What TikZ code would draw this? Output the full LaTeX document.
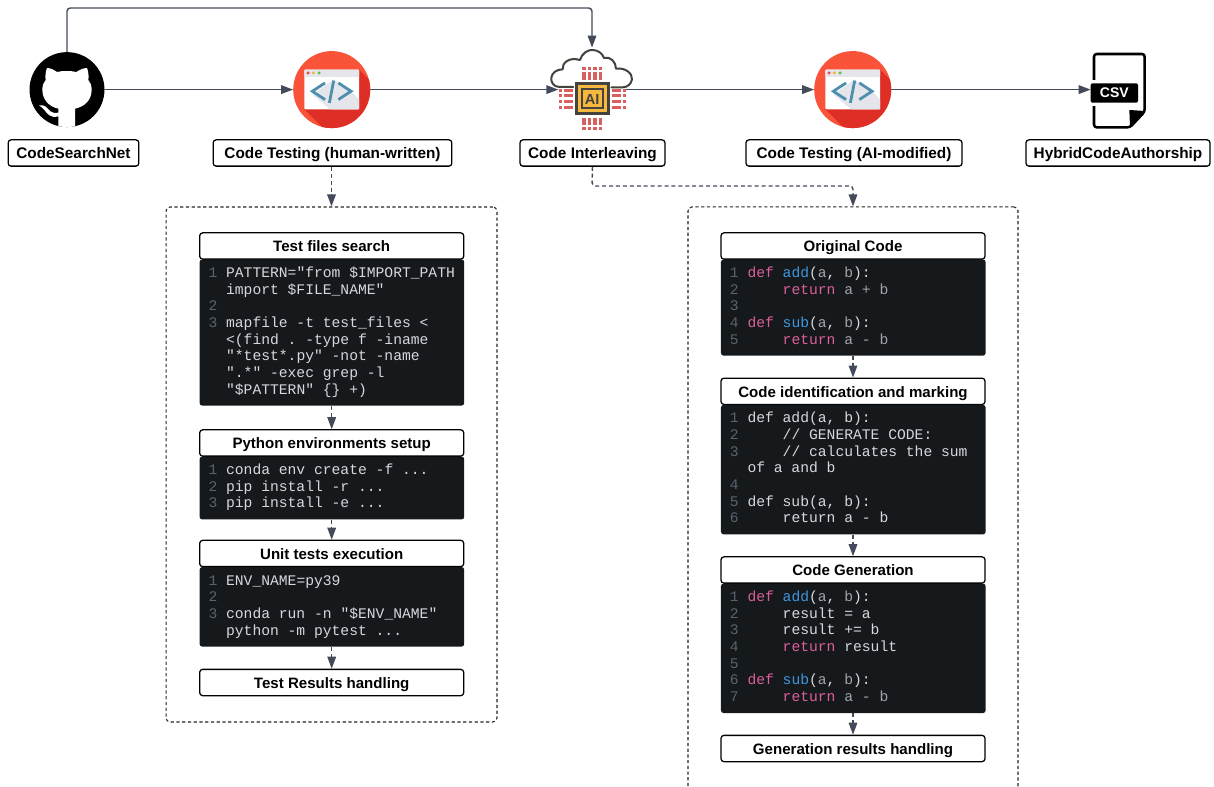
\documentclass[tikz,border=0pt]{standalone}
\usepackage{fontspec}
\usepackage{xcolor}
\setmainfont{Liberation Sans}
\newfontfamily\codefont{Liberation Mono}
\usetikzlibrary{arrows.meta,shapes.geometric}
\definecolor{linec}{HTML}{434B5A}
\definecolor{darkbg}{HTML}{15191C}
\definecolor{codec}{HTML}{D6D8DC}
\definecolor{numc}{HTML}{5C626B}
\definecolor{kwc}{HTML}{DD5E9A}
\definecolor{fnc}{HTML}{3E97DE}
\definecolor{argc}{HTML}{A2A4A8}
\definecolor{icored}{HTML}{F9533A}
\definecolor{icodark}{HTML}{DE2E25}
\definecolor{icoblue}{HTML}{4F8FAE}
\definecolor{icogray}{HTML}{E4E6EB}
\definecolor{dotr}{HTML}{E8474C}
\definecolor{doty}{HTML}{F5B52E}
\definecolor{dotg}{HTML}{57C04A}
\definecolor{chipred}{HTML}{D9605F}
\definecolor{chipdark}{HTML}{46423E}
\definecolor{chipyel}{HTML}{F5B93F}
\newcommand\lno[1]{\spaceskip=.6em\xspaceskip=.6em\relax\strut\textcolor{numc}{#1}\hspace*{.6em}}
\newcommand\lnc{\spaceskip=.6em\xspaceskip=.6em\relax\strut\hspace*{1.2em}}
\newcommand\ind{\hspace*{2.4em}}
\newcommand\kw[1]{\textcolor{kwc}{#1}}
\newcommand\fn[1]{\textcolor{fnc}{#1}}
\newcommand\ar[1]{\textcolor{argc}{#1}}
\tikzset{
  x=0.75pt,y=-0.75pt,
  lbl/.style={draw=black,line width=0.95pt,fill=white,rounded corners=2.2pt,font=\bfseries\fontsize{11.5}{13}\selectfont,inner xsep=0pt,inner ysep=0pt,minimum height=19.7pt,text height=10pt,text depth=1.2pt,text=black},
  hd/.style={lbl,minimum width=198pt,font=\bfseries\fontsize{11.3}{13}\selectfont},
  dark/.style={fill=darkbg,rounded corners=2pt,anchor=north west,text width=185.1pt,inner xsep=6.7pt,inner ysep=4.85pt,align=left,text=codec,font=\codefont\fontsize{11}{12.49}\selectfont},
  conn/.style={draw=linec,line width=1.1pt,-{Triangle[length=9pt,width=6.4pt,fill=linec]}},
  dconn/.style={conn,dash pattern=on 3pt off 2.2pt},
  frame/.style={draw=black!85,line width=0.8pt,dash pattern=on 2.4pt off 1.9pt,rounded corners=3pt,inner sep=0pt},
  iconbox/.style={inner sep=0pt,outer sep=0pt}
}
\newcommand\codeicon[1]{%
  \begin{scope}[shift={(#1)},x=.25pt,y=-.25pt]
    \begin{scope}
      \clip (0,0) circle (28.875pt);
      \fill[icored] (-130,-130) rectangle (130,130);
      \fill[icodark] (82,-60) -- (280,138) -- (120,261) -- (-82,59) -- cycle;
    \end{scope}
    \fill[white,rounded corners=.7pt] (-82,-60) rectangle (82,59);
    \fill[icogray] (5,-30) -- (58,5) -- (82,30) -- (82,59) -- (-5,59) -- (-58,15) -- cycle;
    \fill[icogray,rounded corners=.7pt] (-82,-60) rectangle (82,-38);
    \fill[dotr] (-71,-50) circle (5);
    \fill[doty] (-55,-50) circle (5);
    \fill[dotg] (-38,-50) circle (5);
    \draw[icoblue,line width=2.1pt] (-20,-20) -- (-58,5) -- (-20,30);
    \draw[icoblue,line width=2.1pt] (20,-20) -- (58,5) -- (20,30);
    \draw[icoblue,line width=2.1pt] (6,-27) -- (-7,40);
  \end{scope}}
\begin{document}
\begin{tikzpicture}
\useasboundingbox (0,0) rectangle (1214,787);
\fill[white] (0,0) rectangle (1214,787);

% icon anchors
\node[circle,fill=black,minimum size=56.2pt,iconbox] (gh) at (67,89.6) {};
\node[circle,minimum size=57.8pt,iconbox] (t1) at (331.7,89.6) {};
\node[rectangle,minimum width=50.5pt,minimum height=63pt,iconbox] (ai) at (592,89.6) {};
\node[circle,minimum size=57.8pt,iconbox] (t2) at (852.7,89.6) {};
\node[rectangle,minimum width=41.5pt,minimum height=55pt,iconbox] (csv) at (1118.4,89.6) {};

% top labels
\node[lbl,minimum width=98pt] (l1) at (73.5,153) {CodeSearchNet};
\node[lbl,minimum width=179pt] (l2) at (332.5,153) {Code Testing (human-written)};
\node[lbl,minimum width=108.7pt] (l3) at (592.5,153) {Code Interleaving};
\node[lbl,minimum width=162pt] (l4) at (854,153) {Code Testing (AI-modified)};
\node[lbl,minimum width=138pt] (l5) at (1118,153) {HybridCodeAuthorship};

% frames
\node[frame,minimum width=248.2pt,minimum height=386.2pt] (f1) at (331.5,464.5) {};
\node[frame,minimum width=247.5pt,minimum height=470pt] (f2) at (853,520.3) {};

% top connectors
\coordinate (topc) at (592,8);
\draw[conn,rounded corners=2.5pt] (gh.north) |- (topc) -- (ai.north);
\draw[conn] (gh.east) -- (t1.west);
\draw[conn] (t1.east) -- (ai.west);
\draw[conn] (ai.east) -- (t2.west);
\draw[conn] (t2.east) -- (csv.west);
\draw[dconn] (l2.south -| f1.north) -- (f1.north);
\coordinate (kn) at (592,186);
\draw[dconn,rounded corners=2.5pt] (l3.south) -- (kn) -| (f2.north);

% left column
\node[hd] (a1) at (331.7,246) {Test files search};
\node[dark] (ca1) at (199.3,259.2) {\lno{1}PATTERN="from \$IMPORT\_PATH\\
\lnc import \$FILE\_NAME"\\
\lno{2}\\
\lno{3}mapfile -t test\_files <\\
\lnc <(find . -type f -iname\\
\lnc "*test*.py" -not -name\\
\lnc ".*" -exec grep -l\\
\lnc "\$PATTERN" \{\} +)};
\node[hd] (a2) at (331.7,443) {Python environments setup};
\node[dark] (ca2) at (199.3,456.3) {\lno{1}conda env create -f ...\\
\lno{2}pip install -r ...\\
\lno{3}pip install -e ...};
\node[hd] (a3) at (331.7,553.5) {Unit tests execution};
\node[dark] (ca3) at (199.3,566.8) {\lno{1}ENV\_NAME=py39\\
\lno{2}\\
\lno{3}conda run -n "\$ENV\_NAME"\\
\lnc python -m pytest ...};
\node[hd] (a4) at (331.7,682.5) {Test Results handling};
\draw[dconn] (ca1.south -| a1.south) -- (a2.north);
\draw[dconn] (ca2.south -| a2.south) -- (a3.north);
\draw[dconn] (ca3.south -| a3.south) -- (a4.north);

% right column
\node[hd] (b1) at (853,246) {Original Code};
\node[dark] (cb1) at (720.7,259.2) {\lno{1}\kw{def} \fn{add}(\ar{a}, \ar{b}):\\
\lno{2}\ind\kw{return} \ar{a + b}\\
\lno{3}\\
\lno{4}\kw{def} \fn{sub}(\ar{a}, \ar{b}):\\
\lno{5}\ind\kw{return} \ar{a - b}};
\node[hd] (b2) at (853,391.3) {Code identification and marking};
\node[dark] (cb2) at (720.7,404.6) {\lno{1}def add(a, b):\\
\lno{2}\ind// GENERATE CODE:\\
\lno{3}\ind// calculates the sum\\
\lnc of a and b\\
\lno{4}\\
\lno{5}def sub(a, b):\\
\lno{6}\ind return a - b};
\node[hd] (b3) at (853,570) {Code Generation};
\node[dark] (cb3) at (720.7,583.3) {\lno{1}\kw{def} \fn{add}(\ar{a}, \ar{b}):\\
\lno{2}\ind result = a\\
\lno{3}\ind result += b\\
\lno{4}\ind\kw{return} result\\
\lno{5}\\
\lno{6}\kw{def} \fn{sub}(\ar{a}, \ar{b}):\\
\lno{7}\ind\kw{return} \ar{a - b}};
\node[hd] (b4) at (853,748.5) {Generation results handling};
\draw[dconn] (cb1.south -| b1.south) -- (b2.north);
\draw[dconn] (cb2.south -| b2.south) -- (b3.north);
\draw[dconn] (cb3.south -| b3.south) -- (b4.north);

% github cat
\begin{scope}
  \clip (gh.center) circle (28.1pt);
  \begin{scope}[shift={(25,48)},x=.25pt,y=-.25pt]
    \fill[white] (100,250) -- (100,205) .. controls (75,212) and (66,195) .. (58,186) .. controls (52,178) and (46,176) .. (42,172)
      .. controls (60,168) and (68,182) .. (76,190) .. controls (84,196) and (92,196) .. (100,194)
      -- (100,182) .. controls (72,176) and (52,155) .. (52,125) .. controls (52,112) and (56,103) .. (62,96)
      .. controls (60,84) and (62,70) .. (66,60) .. controls (76,60) and (88,66) .. (96,72)
      .. controls (112,68) and (138,68) .. (154,72) .. controls (162,66) and (176,60) .. (186,60)
      .. controls (190,70) and (192,84) .. (190,96) .. controls (196,103) and (200,112) .. (200,125)
      .. controls (200,155) and (180,176) .. (150,182) -- (150,250) -- cycle;
  \end{scope}
\end{scope}

% code icons
\codeicon{t1}
\codeicon{t2}

% AI icon
\begin{scope}[shift={(540,40)},x=.25pt,y=-.25pt]
  \draw[chipdark,line width=1.5pt,line cap=round,line join=round,fill=white]
    (100,141) -- (58,141) .. controls (40,141) and (32,125) .. (34,113) .. controls (36,98) and (50,88) .. (68,88)
    .. controls (66,70) and (85,50) .. (120,60) .. controls (125,40) and (145,28) .. (158,30) .. controls (175,30) and (188,42) .. (192,54)
    .. controls (210,48) and (228,65) .. (228,86) .. controls (255,82) and (278,100) .. (276,118) .. controls (274,132) and (262,142) .. (248,142) -- (214,142);
  \fill[white] (102,120) rectangle (212,142);
  \foreach \cx in {127,143,160,176}{
    \fill[chipred] (\cx,82) rectangle ++(10,9);
    \fill[chipred] (\cx,97) rectangle ++(10,22);
    \fill[chipred] (\cx,233) rectangle ++(10,22);
    \fill[chipred] (\cx,261) rectangle ++(10,9);
  }
  \foreach \cy in {148,163,181,199}{
    \fill[chipred] (57,\cy) rectangle ++(8,9);
    \fill[chipred] (72,\cy) rectangle ++(26,9);
    \fill[chipred] (216,\cy) rectangle ++(26,9);
    \fill[chipred] (249,\cy) rectangle ++(8,9);
  }
  \fill[chipdark] (104,127) rectangle (209,226);
  \fill[chipyel] (113,136) rectangle (200,217);
  \fill[chipdark] (122,145) rectangle (191,208);
  \fill[chipyel] (128,151) rectangle (185,202);
  \node[text=chipdark,font=\bfseries\fontsize{11}{11}\selectfont,inner sep=0pt] (aitext) at (156.5,177) {AI};
\end{scope}

% CSV icon
\begin{scope}[shift={(1000,30)},x=.25pt,y=-.25pt]
  \draw[black,line width=1.9pt,line join=round,rounded corners=2pt,fill=white]
    (282,72) -- (434,72) -- (434,245) -- (390,292) -- (282,292) -- cycle;
  \fill[black] (388,240) -- (434,243) -- (390,290) -- cycle;
  \fill[white] (272,150) rectangle (300,228);
  \node[fill=black,rounded corners=1.5pt,text=white,font=\bfseries\fontsize{10.5}{11}\selectfont,minimum width=35.5pt,minimum height=14.6pt,inner sep=0pt] (csvtag) at (343,189) {CSV};
\end{scope}
\end{tikzpicture}
\end{document}
